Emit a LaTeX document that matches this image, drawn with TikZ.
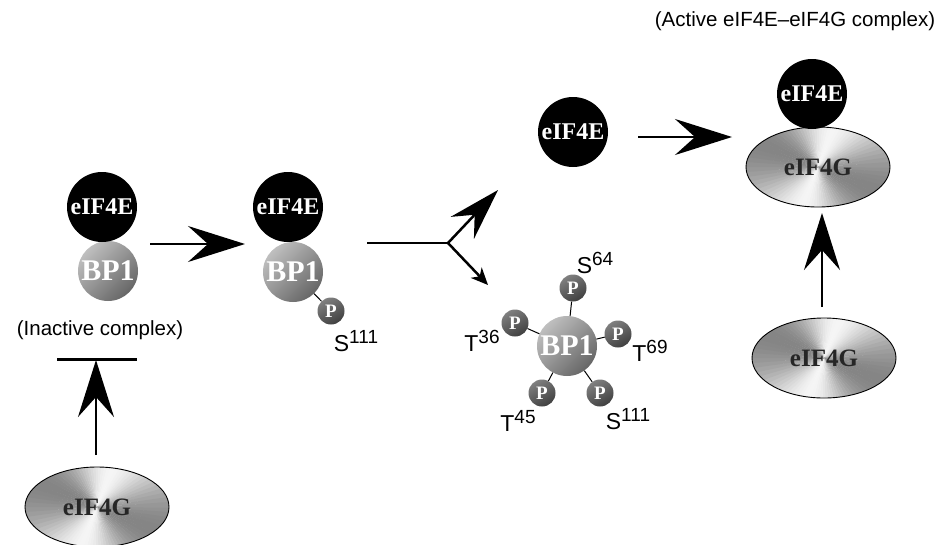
\documentclass[tikz,border=0pt]{standalone}
\usepackage{fontspec}
\setmainfont{Liberation Serif}
\newfontfamily\labfont{Liberation Sans}
\usetikzlibrary{arrows.meta,shapes.geometric}
\tikzset{
  efe/.style={circle, fill=black, minimum size=70pt, inner sep=0pt, text=white,
    font=\bfseries\fontsize{24}{24}\selectfont},
  bpone/.style={circle, minimum size=60pt, inner sep=0pt, text=white,
    top color=black!25, bottom color=black!60, shading angle=45,
    font=\bfseries\fontsize{30}{30}\selectfont},
  phos/.style={circle, minimum size=27pt, inner sep=0pt, text=white,
    top color=black!50, bottom color=black!75, shading angle=30,
    font=\bfseries\fontsize{19}{19}\selectfont},
  efg/.style={ellipse, draw=black, line width=0.9pt, minimum width=144pt, minimum height=80pt,
    inner sep=0pt, text=black!85, font=\bfseries\fontsize{25}{25}\selectfont,
    path picture={
      \foreach \a in {0,4,...,356}{
        \pgfmathsetmacro\k{4+22*(1-cos(2*(\a+70)))}
        \fill[black!\k] (path picture bounding box.center) -- ++(\a:120)
          arc[start angle=\a, end angle=\a+4.6, radius=120] -- cycle;
      }}},
  lab/.style={font=\labfont\fontsize{23}{23}\selectfont, inner sep=0pt},
  caption/.style={font=\labfont\fontsize{20.5}{20.5}\selectfont, inner sep=0pt},
  bigarrow/.style={line width=2.5pt, -{Stealth[length=57pt,width=36pt,inset=20pt]}},
  midarrow/.style={line width=2.5pt, -{Stealth[length=52pt,width=32pt,inset=18pt]}},
  smallarrow/.style={line width=2.5pt, -{Stealth[length=17pt,width=15pt,inset=5pt]}},
  stalk/.style={line width=1pt},
}
\newcommand{\supl}[2]{#1\raisebox{8.5pt}{\fontsize{19}{19}\selectfont #2}}
\begin{document}
\begin{tikzpicture}[x=1pt,y=-1pt]
\useasboundingbox (0,0) rectangle (942,544);

% complex 1 (inactive)
\node[bpone] (B1) at (108,271) {BP1};
\node[efe] (E1) at (102,207) {eIF4E};
\node[caption] (inact) at (100,330) {(Inactive complex)};
\coordinate (barl) at (57,359);
\coordinate (barr) at (137,359);
\coordinate (bartip) at (96,360);
\coordinate (g1s) at (96,455);
\draw[line width=3pt] (barl) -- (barr);
\node[efg] (G1) at (97,507) {eIF4G};
\draw[bigarrow] (g1s) -- (bartip);

% arrow 1
\coordinate (a1s) at (150,244);
\coordinate (a1e) at (245,244);
\draw[bigarrow] (a1s) -- (a1e);

% complex 2
\node[bpone] (B2) at (293,272) {BP1};
\node[efe] (E2) at (288,207) {eIF4E};
\node[phos] (P2) at (331,311) {P};
\draw[stalk] (B2) -- (P2);
\node[lab] (s111a) at (356,341) {\supl{S}{111}};

% branch
\coordinate (brs) at (367,243);
\coordinate (brj) at (448,243);
\coordinate (bru) at (498,190);
\coordinate (brd) at (488,285);
\draw[line width=2.5pt] (brs) -- (brj);
\draw[midarrow] (brj) -- (bru);
\draw[smallarrow] (brj) -- (brd);

% free eIF4E
\node[efe] (E3) at (573,132) {eIF4E};
\coordinate (a3s) at (638,137);
\coordinate (a3e) at (732,137);
\draw[bigarrow] (a3s) -- (a3e);

% hyperphosphorylated BP1
\node[bpone] (B5) at (567,346) {BP1};
\node[phos] (P64) at (573,288) {P};
\node[phos] (P36) at (515,323) {P};
\node[phos] (P69) at (618,334) {P};
\node[phos] (P45) at (542,393) {P};
\node[phos] (P111) at (600,393) {P};
\foreach \p in {P64,P36,P69,P45,P111} \draw[stalk] (B5) -- (\p);
\node[lab] (l64) at (595,263) {\supl{S}{64}};
\node[lab] (l36) at (482,341) {\supl{T}{36}};
\node[lab] (l69) at (650,351) {\supl{T}{69}};
\node[lab] (l45) at (518,421) {\supl{T}{45}};
\node[lab] (l111) at (628,419) {\supl{S}{111}};

% active complex
\node[caption] (act) at (795,21) {(Active eIF4E–eIF4G complex)};
\node[efg] (G4) at (818,167) {eIF4G};
\node[efe] (E4) at (812,94) {eIF4E};
\node[efg] (G5) at (824,358) {eIF4G};
\coordinate (a5s) at (822,307);
\coordinate (a5e) at (822,213);
\draw[bigarrow] (a5s) -- (a5e);
\end{tikzpicture}
\end{document}
